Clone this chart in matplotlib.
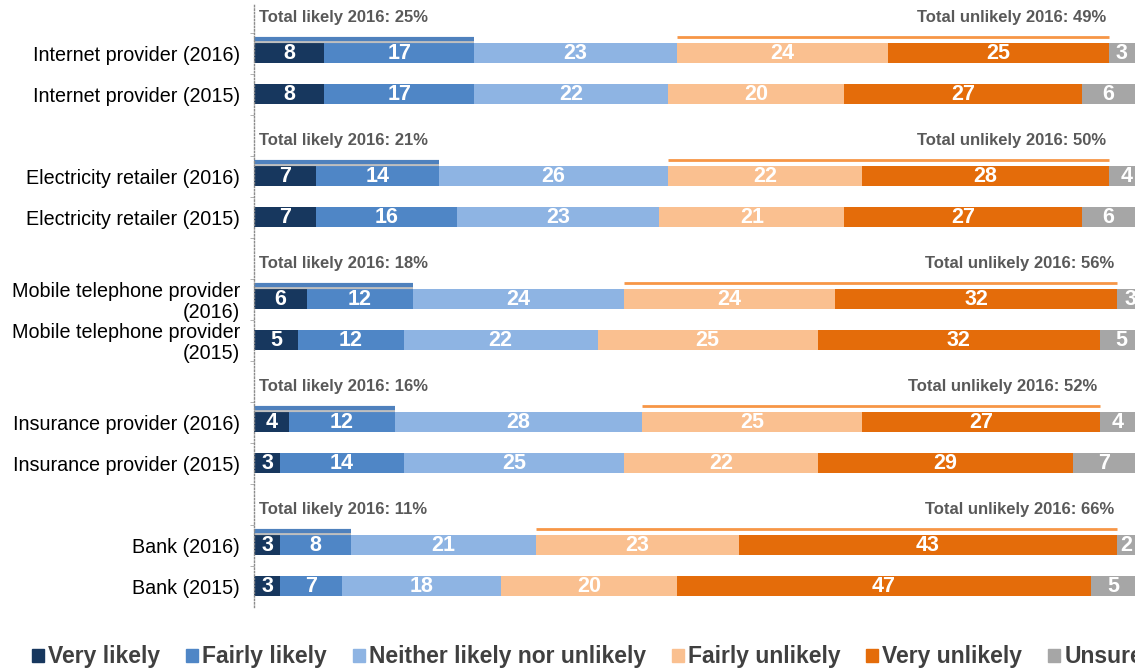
import numpy as np
import matplotlib
matplotlib.use("Agg")
import matplotlib.pyplot as plt
from matplotlib.patches import Patch

plt.rcParams['font.family'] = ['Liberation Sans', 'DejaVu Sans']

# survey data, percent of respondents
providers = ['Internet provider', 'Electricity retailer', 'Mobile telephone provider',
             'Insurance provider', 'Bank']
row_labels = ['Internet provider (2016)', 'Internet provider (2015)',
              'Electricity retailer (2016)', 'Electricity retailer (2015)',
              'Mobile telephone provider\n(2016)', 'Mobile telephone provider\n(2015)',
              'Insurance provider (2016)', 'Insurance provider (2015)',
              'Bank (2016)', 'Bank (2015)']
very_likely = [8, 8, 7, 7, 6, 5, 4, 3, 3, 3]
fairly_likely = [17, 17, 14, 16, 12, 12, 12, 14, 8, 7]
neither = [23, 22, 26, 23, 24, 22, 28, 25, 21, 18]
fairly_unlikely = [24, 20, 22, 21, 24, 25, 25, 22, 23, 20]
very_unlikely = [25, 27, 28, 27, 32, 32, 27, 29, 43, 47]
unsure = [3, 6, 4, 6, 3, 5, 4, 7, 2, 5]

series = [very_likely, fairly_likely, neither, fairly_unlikely, very_unlikely, unsure]
names = ['Very likely', 'Fairly likely', 'Neither likely nor unlikely',
         'Fairly unlikely', 'Very unlikely', 'Unsure']
colors = ['#17375E', '#4F86C6', '#8EB4E3', '#FAC090', '#E46C0A', '#A6A6A6']

# each group: a header slot then two bar slots
ypos = []
for g in range(len(providers)):
    ypos += [3 * g + 1, 3 * g + 2]
ypos = np.array(ypos)

fig = plt.figure(figsize=(11.35, 6.69), dpi=100)
ax = fig.add_axes([0.2238, 0.0934, 0.7762, 0.9009])

left = np.zeros(len(ypos))
for vals, name, col in zip(series, names, colors):
    vals = np.array(vals)
    ax.barh(ypos, vals, left=left, height=0.49, color=col, label=name)
    for y, l, v in zip(ypos, left, vals):
        ax.text(l + v / 2, y + 0.02, str(v), ha='center', va='center', color='white',
                fontsize=15.5, fontweight='bold')
    left = left + vals

# totals for 2016 rows with brackets
for g in range(len(providers)):
    i = 2 * g
    y = ypos[i]
    tl = very_likely[i] + fairly_likely[i]
    start_u = tl + neither[i]
    tu = fairly_unlikely[i] + very_unlikely[i]
    ax.plot([0, tl], [y - 0.29, y - 0.29], color='#BFBFBF', lw=3, solid_capstyle='butt')
    ax.plot([0, tl], [y - 0.34, y - 0.34], color='#4F81BD', lw=3, solid_capstyle='butt')
    ax.plot([start_u, start_u + tu], [y - 0.39, y - 0.39], color='#F79646', lw=2,
            solid_capstyle='butt')
    ax.text(0.6, y - 0.86, 'Total likely 2016: %d%%' % tl, ha='left', va='center',
            fontsize=12, fontweight='bold', color='#595959')
    ax.text(start_u + tu - 0.3, y - 0.86, 'Total unlikely 2016: %d%%' % tu, ha='right',
            va='center', fontsize=12, fontweight='bold', color='#595959')

ax.set_xlim(0, 100)
ax.set_ylim(14.5, -0.2)
ax.set_yticks(ypos)
ax.set_yticklabels(row_labels, fontsize=14.2, linespacing=1.15)
ax.set_yticks(np.arange(0.5, 14.5, 1), minor=True)
ax.tick_params(axis='y', which='major', length=0, pad=10)
ax.tick_params(axis='y', which='minor', length=3, color='#A6A6A6', direction='out')
ax.set_xticks([])
for s in ['top', 'right', 'bottom']:
    ax.spines[s].set_visible(False)
ax.spines['left'].set_linestyle((0, (1, 1.5)))
ax.spines['left'].set_color('#8C8C8C')
ax.spines['left'].set_linewidth(1)

handles = [Patch(color=c, label=n) for c, n in zip(colors, names)]
leg = fig.legend(handles=handles, loc='center left', bbox_to_anchor=(0.028, 0.018),
                 ncol=6, frameon=False, handlelength=0.53, handleheight=0.53,
                 handletextpad=0.17, columnspacing=1.13, borderpad=0, borderaxespad=0,
                 prop={'size': 16.5, 'weight': 'bold'})
for t in leg.get_texts():
    t.set_color('#404040')

fig.savefig('out.png', dpi=100)
